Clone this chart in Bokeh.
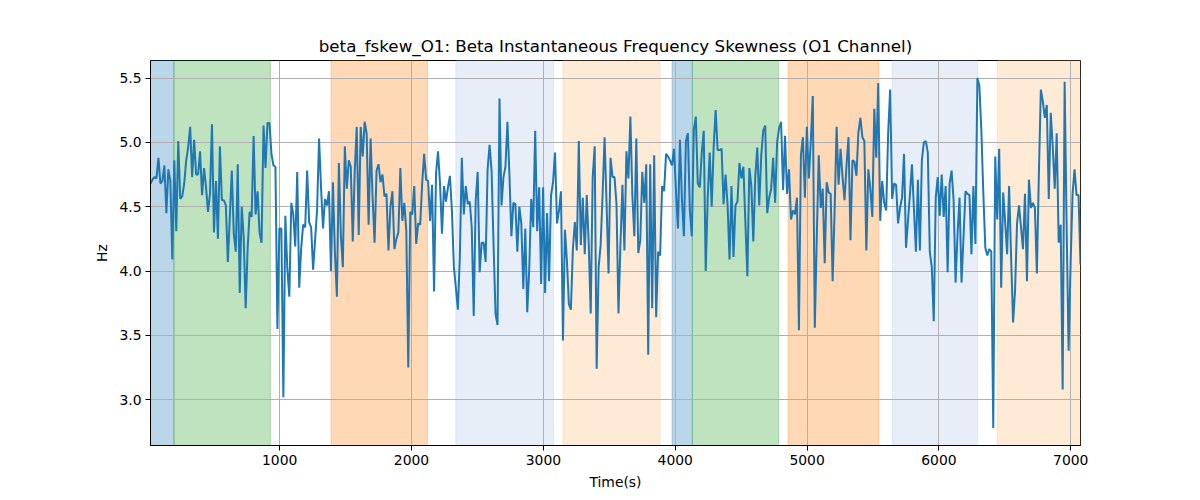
import numpy as np
from bokeh.plotting import figure
from bokeh.models import BoxAnnotation, Range1d, FixedTicker, NumeralTickFormatter
from bokeh.embed import file_html
from bokeh.resources import INLINE

# ---------------- data ----------------
t_first = 20.0
t_last = 7074.0

vals_0000 = [4.68, 4.71, 4.73, 4.72, 4.88, 4.68, 4.70, 4.82, 4.45, 4.79,
             4.70, 4.09, 4.86, 4.31, 5.01, 4.56, 4.58, 4.68, 4.86, 4.96,
             5.12, 4.73, 5.02, 4.75, 4.75, 4.93, 4.59, 4.80, 4.65, 4.46,
             4.60, 5.14, 4.30, 4.70, 4.25, 4.97, 4.55, 4.55, 4.51, 4.07,
             4.42, 4.78, 4.29, 4.15, 4.83, 3.83, 4.50, 4.26, 3.71, 4.18,
             4.46, 4.42, 5.05, 4.44, 4.62, 4.30, 4.22, 5.13, 4.80, 5.15,
             5.15, 4.91, 4.82, 4.81, 3.55]
vals_1000 = [4.33, 4.33, 3.02, 4.43, 4.02, 3.80, 4.53, 4.44, 4.19, 4.77,
             3.87, 4.18, 4.36, 4.34, 4.78, 4.38, 4.34, 4.01, 4.24, 4.47,
             5.03, 4.65, 4.33, 4.56, 4.51, 4.62, 4.00, 4.69, 4.14, 3.80,
             4.84, 4.28, 4.03, 4.97, 4.64, 4.86, 4.81, 4.23, 4.78, 5.12,
             4.28, 5.12, 4.89, 5.16, 5.07, 4.36, 5.03, 4.57, 4.22, 4.78,
             4.83, 4.69, 4.75, 4.58, 4.60, 4.16, 4.50, 4.62, 4.17, 4.25,
             4.30, 4.80, 4.39, 4.53, 4.31, 3.25, 4.46]
vals_2000 = [4.44, 4.66, 4.21, 4.37, 4.36, 4.68, 4.91, 4.71, 4.70, 4.39,
             4.67, 3.84, 4.76, 4.93, 4.68, 4.29, 4.66, 4.54, 4.65, 4.74,
             4.47, 4.03, 3.87, 3.70, 4.11, 4.88,
             4.44, 4.66, 4.52, 4.54, 4.34, 3.65, 4.55, 4.77, 3.99, 4.22,
             4.22, 4.07, 4.79, 4.98, 4.78, 4.21, 3.67, 3.58, 5.34, 4.51,
             4.73, 4.81, 5.16, 4.75, 4.27, 4.53, 4.52, 4.15, 4.50, 4.37,
             3.86, 4.33, 3.68, 4.02, 4.56, 4.34, 5.09, 4.31, 4.65, 3.90,
             4.65]
vals_3000 = [3.83, 4.45, 3.92, 4.59, 4.69, 4.92, 4.37, 4.47, 4.62, 3.46,
             4.32, 4.08, 3.74, 3.70, 4.17, 4.38, 4.16, 5.01, 4.20, 4.57,
             4.13, 4.59, 4.21, 3.67, 4.73, 4.97, 3.24, 4.03, 4.20, 4.60,
             5.04, 4.52, 3.98, 4.88, 4.73, 4.73, 4.52,
             3.67, 4.21, 4.67, 4.16, 4.93, 4.72, 5.20, 4.59, 4.27, 5.03,
             4.14, 4.24, 4.77, 4.53, 4.83, 3.35, 4.83, 3.71, 4.90, 3.64,
             4.15, 4.12, 4.66, 4.62, 4.91, 4.89, 4.86, 4.82, 4.95]
vals_4000 = [4.62, 4.33, 5.02, 4.56, 4.27, 5.01, 5.07, 4.47, 4.27, 5.10,
             5.20, 4.68, 4.65, 4.92, 5.09, 4.00, 4.57, 4.92, 4.50, 4.96,
             5.25, 4.94, 4.94, 4.95, 4.52, 4.75, 4.52, 4.09, 4.66, 4.11,
             4.51, 4.54, 4.84, 4.72, 4.81, 4.38, 3.96, 4.80, 4.66, 4.23,
             4.74, 4.96, 4.51, 4.90, 5.09, 5.13, 4.45, 4.57,
             4.64, 4.88, 4.53, 5.00, 5.11, 5.16, 4.63, 5.05, 4.60, 4.79,
             4.40, 4.47, 4.44, 4.57, 3.54, 4.90, 5.04, 4.57]
vals_5000 = [5.12, 4.72, 5.01, 5.36, 3.56, 4.26, 4.90, 4.49, 4.64, 4.06,
             4.69, 4.61, 4.60, 3.92, 4.47, 5.12, 4.67, 4.95, 4.73, 4.55,
             4.82, 5.04, 4.24, 4.86, 4.85, 4.74, 5.08, 5.19, 5.04, 5.01,
             4.16, 4.79, 4.64, 4.42, 5.26, 4.88, 5.46, 4.39, 4.70, 4.53,
             4.47, 5.07, 5.41, 4.56, 4.68, 4.67, 4.37, 4.49, 4.57, 4.91,
             4.18, 4.39, 4.60, 4.83, 4.48, 4.15, 4.71, 4.16, 4.86, 5.00,
             5.01, 4.92, 4.15, 4.03, 3.61, 4.57, 4.73]
vals_6000 = [4.43, 4.75, 4.42, 4.66, 3.99, 4.68, 4.78, 4.55, 3.91, 4.29,
             4.57, 3.91, 4.26, 4.62, 4.60, 4.59, 4.13, 4.66, 4.21, 5.50,
             5.44, 5.09, 4.60, 4.18, 4.12, 4.17, 4.15, 2.78, 4.89, 4.40,
             4.95, 3.87, 4.61, 4.38, 4.13, 4.66, 4.11, 3.60, 3.85, 4.37,
             4.51, 4.34, 4.17, 4.60, 3.92, 4.71, 4.49, 4.53, 4.49, 3.98,
             4.75, 5.41, 5.32, 5.19, 5.29, 4.56, 5.23, 4.97, 4.64, 5.07,
             4.22, 4.36, 3.08, 5.47, 4.35, 3.38, 4.05, 4.60, 4.79, 4.59,
             4.59, 4.05]

# shaded stage intervals (seconds)
span_start = [20, 198, 1390, 2336, 3148, 3976, 4130, 4856, 5646, 6442]
span_end = [198, 929, 2121, 3077, 3885, 4130, 4785, 5544, 6295, 7074]
span_color = ["#1f77b4", "#2ca02c", "#ff7f0e", "#aec7e8", "#ffbb78",
              "#1f77b4", "#2ca02c", "#ff7f0e", "#aec7e8", "#ffbb78"]

x_ticks = [1000, 2000, 3000, 4000, 5000, 6000, 7000]
y_ticks = [3.0, 3.5, 4.0, 4.5, 5.0, 5.5]

title_text = "beta_fskew_O1: Beta Instantaneous Frequency Skewness (O1 Channel)"
x_label = "Time(s)"
y_label = "Hz"

# ---------------- build ----------------
values = np.array(vals_0000 + vals_1000 + vals_2000 + vals_3000 +
                  vals_4000 + vals_5000 + vals_6000)
time = np.linspace(t_first, t_last, len(values))

vmin, vmax = values.min(), values.max()
pad = 0.05 * (vmax - vmin)

FONT = "DejaVu Sans"

p = figure(
    output_backend="svg",
    toolbar_location=None,
    frame_width=930,
    frame_height=385,
    min_border_left=150,
    min_border_right=112,
    min_border_top=60,
    min_border_bottom=47,
    x_range=Range1d(t_first, t_last),
    y_range=Range1d(vmin - pad, vmax + pad),
    title=title_text,
)

p.background_fill_color = "white"
p.border_fill_color = "white"
p.outline_line_color = "black"
p.outline_line_width = 1

p.title.align = "center"
p.title.text_font = FONT
p.title.text_font_size = "16.7px"
p.title.text_font_style = "normal"
p.title.text_color = "black"

for s, e, c in zip(span_start, span_end, span_color):
    p.add_layout(BoxAnnotation(left=s, right=e, fill_color=c, fill_alpha=0.3,
                               line_color=c, line_alpha=0.3, line_width=1,
                               level="image"))

p.line(time, values, line_color="#1f77b4", line_width=2)

p.xaxis.ticker = FixedTicker(ticks=x_ticks)
p.yaxis.ticker = FixedTicker(ticks=y_ticks)
p.xaxis.formatter = NumeralTickFormatter(format="0")
p.yaxis.formatter = NumeralTickFormatter(format="0.0")
p.xaxis.axis_label = x_label
p.yaxis.axis_label = y_label

for ax in (p.xaxis, p.yaxis):
    ax.axis_line_color = "black"
    ax.axis_line_width = 1
    ax.major_tick_out = 5
    ax.major_tick_in = 0
    ax.major_tick_line_color = "black"
    ax.minor_tick_out = 0
    ax.minor_tick_in = 0
    ax.major_label_text_font = FONT
    ax.major_label_text_font_size = "13.9px"
    ax.major_label_text_color = "black"
    ax.axis_label_text_font = FONT
    ax.axis_label_text_font_size = "13.9px"
    ax.axis_label_text_font_style = "normal"
    ax.axis_label_text_color = "black"
    ax.axis_label_standoff = 6
    ax.major_label_standoff = 4

for g in (p.xgrid, p.ygrid):
    g.grid_line_color = "#b0b0b0"
    g.grid_line_width = 1

open("out.html", "w").write(file_html(p, INLINE))
